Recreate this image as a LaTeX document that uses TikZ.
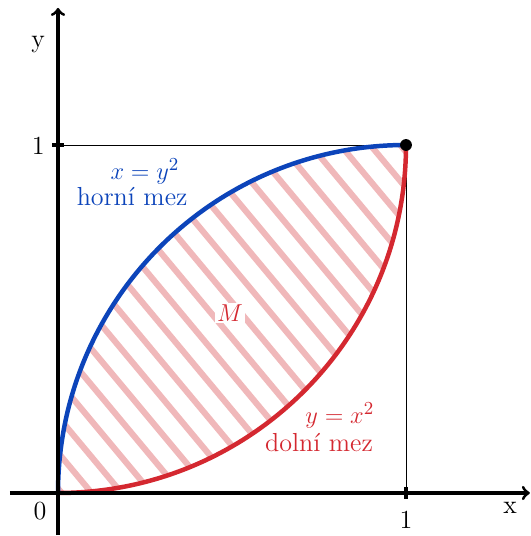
\documentclass[tikz,border=0pt]{standalone}
\definecolor{hornicol}{RGB}{12,68,186}
\definecolor{dolnicol}{RGB}{212,40,48}
\definecolor{srafcol}{RGB}{240,184,186}
\begin{document}
\begin{tikzpicture}[x=6cm,y=6cm,>=to,
  font=\fontsize{12.8}{15}\selectfont]
 \useasboundingbox (-0.1667,-0.1236) rectangle (1.359,1.4167);
 \coordinate (O) at (0,0);
 \coordinate (A) at (1,1);
 \coordinate (Ax) at (1,0);
 \coordinate (Ay) at (0,1);
 \coordinate (xl) at (-0.138,0);
 \coordinate (xr) at (1.356,0);
 \coordinate (yd) at (0,-0.121);
 \coordinate (yu) at (0,1.394);
 % hatching of M
 \begin{scope}
  \clip (O) arc[start angle=180, end angle=90, radius=1] arc[start angle=0, end angle=-90, radius=1] -- cycle;
  \foreach \k in {0,...,21}
   \draw[srafcol, line width=3pt] ({-0.5},{0.013+0.1032*\k+0.6}) -- ({2},{0.013+0.1032*\k-2.4});
 \end{scope}
 \draw[thin] (Ay) -- (A) -- (Ax);
 \draw[dolnicol, line width=2.2pt] (A) arc[start angle=0, end angle=-90, radius=1];
 \draw[hornicol, line width=2.2pt] (O) arc[start angle=180, end angle=90, radius=1];
 \fill (A) circle (0.017);
 \node[fill=white, inner sep=1pt, text=dolnicol] (M) at (0.494,0.517) {$M$};
 \node[text=hornicol] (hf) at (0.25,0.925) {$x=y^2$};
 \node[text=hornicol] (ht) at (0.213,0.853) {horní mez};
 \node[text=dolnicol] (df) at (0.81,0.224) {$y=x^2$};
 \node[text=dolnicol] (dt) at (0.75,0.144) {dolní mez};
 % axes
 \draw[->, line width=1.5pt] (xl) -- (xr);
 \draw[->, line width=1.5pt] (yd) -- (yu);
 \draw[line width=1.5pt] (1,-0.017) -- (1,0.017);
 \draw[line width=1.5pt] (-0.017,1) -- (0.017,1);
 \node (xn) at (1.299,-0.043) {x};
 \node (yn) at (-0.057,1.29) {y};
 \node (zero) at (-0.052,-0.052) {0};
 \node (onex) at (1,-0.078) {1};
 \node (oney) at (-0.057,0.997) {1};
\end{tikzpicture}
\end{document}
